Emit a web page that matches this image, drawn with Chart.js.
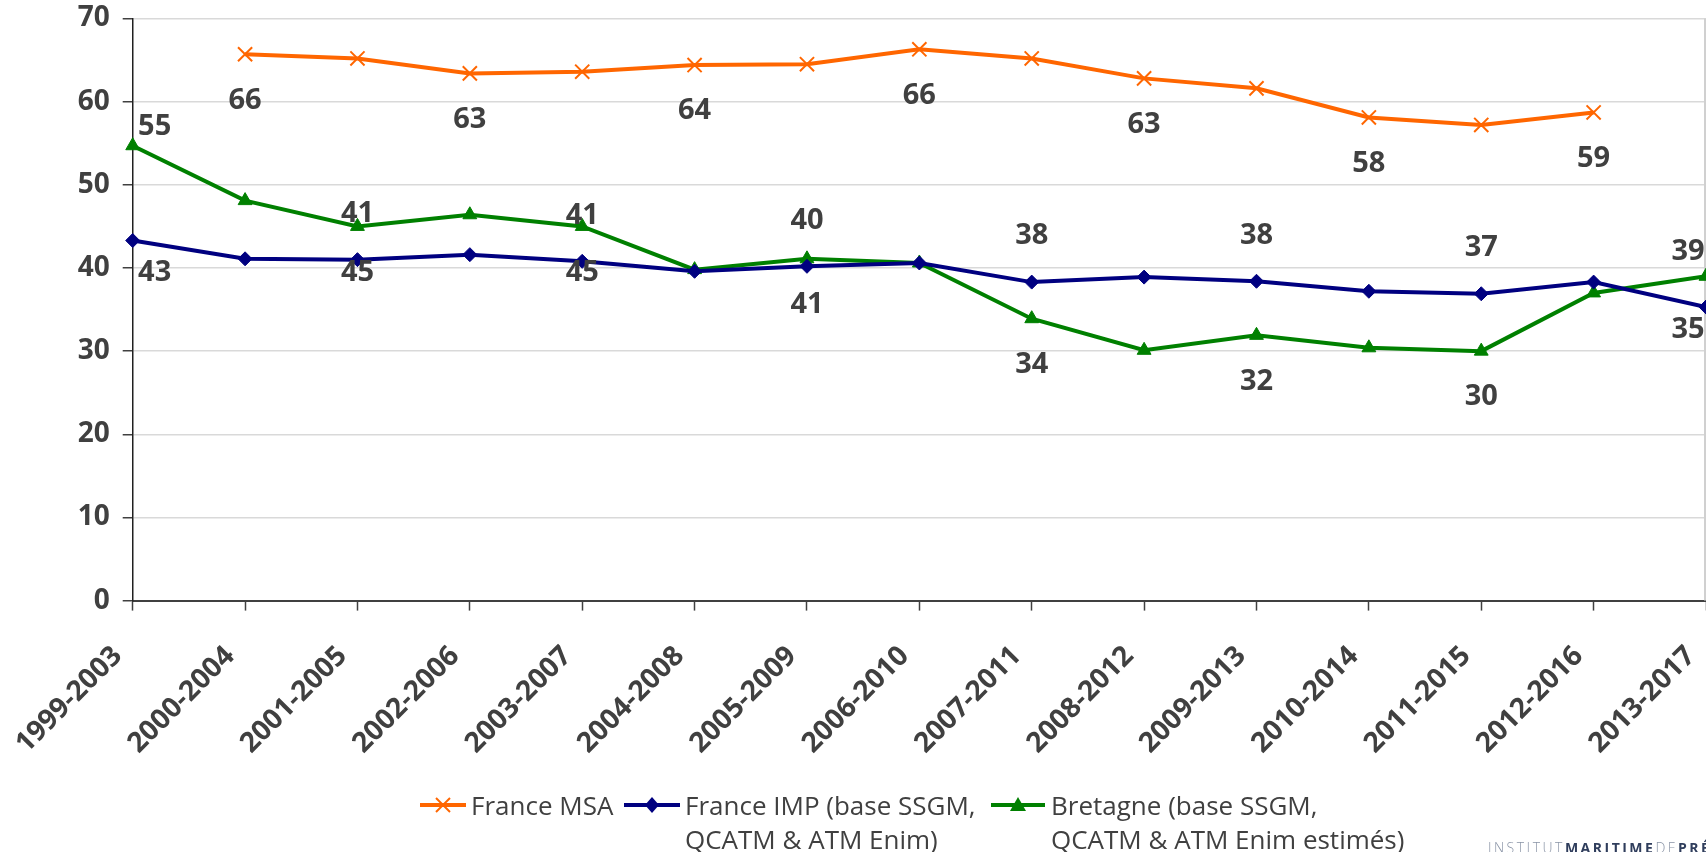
<!DOCTYPE html>
<html lang="fr">
<head>
<meta charset="utf-8">
<script src="https://cdn.jsdelivr.net/npm/chart.js@4/dist/chart.umd.min.js"></script>
<style>
  html, body { margin: 0; padding: 0; background: #fff; overflow: hidden; }
  #wrap { position: relative; width: 1706px; height: 852px; overflow: hidden; }
  #chart { position: absolute; left: 0; top: 0; }
  .legend-item { position: absolute; font-family: "Open Sans", sans-serif; font-size: 26px; color: #404040; line-height: 34px; white-space: nowrap; }
  .legend-icon { position: absolute; }
  #logo { position: absolute; left: 1488px; top: 841px; font-family: "Open Sans", sans-serif; font-size: 14px; line-height: 14px; letter-spacing: 2.5px; color: #8a94a6; font-weight: 300; white-space: nowrap; }
  #logo b { color: #2f3d5c; font-weight: 700; }
</style>
</head>
<body>
<div id="wrap">
  <canvas id="chart" width="1706" height="852"></canvas>

  <!-- légende HTML (texte sur deux lignes comme dans l'original) -->
  <svg class="legend-icon" style="left:418px;top:793px" width="50" height="24">
    <line x1="2" y1="12" x2="48" y2="12" stroke="#FF6600" stroke-width="4"/>
    <line x1="18" y1="5" x2="32" y2="19" stroke="#FF6600" stroke-width="2"/>
    <line x1="32" y1="5" x2="18" y2="19" stroke="#FF6600" stroke-width="2"/>
  </svg>
  <div class="legend-item" style="left:471px;top:788px">France MSA</div>

  <svg class="legend-icon" style="left:622px;top:793px" width="60" height="24">
    <line x1="2" y1="12" x2="58" y2="12" stroke="#000080" stroke-width="4"/>
    <polygon points="30,4 37,12 30,20 23,12" fill="#000080"/>
  </svg>
  <div class="legend-item" style="left:685px;top:788px">France IMP (base SSGM,<br>QCATM &amp; ATM Enim)</div>

  <svg class="legend-icon" style="left:989px;top:793px" width="58" height="24">
    <line x1="2" y1="12" x2="56" y2="12" stroke="#008000" stroke-width="4"/>
    <polygon points="29,4 37,18 21,18" fill="#008000"/>
  </svg>
  <div class="legend-item" style="left:1051px;top:788px">Bretagne (base SSGM,<br>QCATM &amp; ATM Enim estimés)</div>

  <div id="logo">INSTITUT<b>MARITIME</b>DE<b>PRÉVENTION</b></div>
</div>

<script>
// ---------- données ----------
const categories = [
  "1999-2003", "2000-2004", "2001-2005", "2002-2006", "2003-2007",
  "2004-2008", "2005-2009", "2006-2010", "2007-2011", "2008-2012",
  "2009-2013", "2010-2014", "2011-2015", "2012-2016", "2013-2017"
];

const franceMsa = [null, 65.7, 65.2, 63.4, 63.6, 64.4, 64.5, 66.3, 65.2, 62.8, 61.6, 58.1, 57.2, 58.7, null];
const franceImp = [43.3, 41.1, 41.0, 41.6, 40.8, 39.6, 40.2, 40.6, 38.3, 38.9, 38.4, 37.2, 36.9, 38.3, 35.3];
const bretagne  = [54.7, 48.1, 45.0, 46.4, 45.0, 39.8, 41.1, 40.6, 33.9, 30.1, 31.9, 30.4, 30.0, 37.0, 39.0];

const yMin = 0;
const yMax = 70;
const yStep = 10;

// ---------- placement des étiquettes (décalage [dx, dy] en px, null = pas d'étiquette) ----------
const msaLabelShift = [null, [0, 46], null, [0, 46], null, [0, 46], null, [0, 46], null, [0, 46], null, [0, 46], null, [0, 46], null];
const impLabelShift = [[22, 32], null, [0, -46], null, [0, -46], null, [0, -46], null, [0, -46], null, [0, -46], null, [0, -46], null, [-18, 23]];
const bzhLabelShift = [[22, -19], null, [0, 46], null, [0, 46], null, [0, 46], null, [0, 46], null, [0, 46], null, [0, 46], null, [-18, -25]];

const TEXT_COLOR = "#404040";
const BOLD_FONT = { family: "'Open Sans', sans-serif", size: 28, weight: "bold" };

// petit plugin maison pour les valeurs (pas de chartjs-plugin-datalabels hors ligne)
const valueLabels = {
  id: "valueLabels",
  afterDatasetsDraw(chart) {
    const ctx = chart.ctx;
    ctx.save();
    ctx.font = "bold 29px 'Open Sans', sans-serif";
    ctx.fillStyle = TEXT_COLOR;
    ctx.textAlign = "center";
    ctx.textBaseline = "middle";
    chart.data.datasets.forEach((ds, di) => {
      const meta = chart.getDatasetMeta(di);
      ds.labelShift.forEach((shift, i) => {
        if (!shift || ds.data[i] == null) return;
        const pt = meta.data[i];
        ctx.fillText(Math.round(ds.data[i]), pt.x + shift[0], pt.y + shift[1]);
      });
    });
    ctx.restore();
  }
};

// bordure droite de la zone de tracé
const plotBorder = {
  id: "plotBorder",
  beforeDatasetsDraw(chart) {
    const { ctx, chartArea } = chart;
    ctx.save();
    ctx.strokeStyle = "#d0d0d0";
    ctx.lineWidth = 2;
    ctx.beginPath();
    ctx.moveTo(chartArea.right - 1, chartArea.top);
    ctx.lineTo(chartArea.right - 1, chartArea.bottom);
    ctx.stroke();
    ctx.restore();
  }
};

function makeDataset(label, data, color, style, radius, shift) {
  return {
    label: label,
    data: data,
    labelShift: shift,
    borderColor: color,
    backgroundColor: color,
    borderWidth: 4,
    pointStyle: style,
    pointRadius: radius,
    pointHoverRadius: radius,
    pointBorderWidth: style === "crossRot" ? 2 : 1,
    pointBackgroundColor: color,
    pointBorderColor: color,
    tension: 0,
    clip: false,
    spanGaps: false
  };
}

new Chart(document.getElementById("chart"), {
  type: "line",
  data: {
    labels: categories,
    datasets: [
      makeDataset("France MSA", franceMsa, "#FF6600", "crossRot", 10, msaLabelShift),
      makeDataset("France IMP (base SSGM, QCATM & ATM Enim)", franceImp, "#000080", "rectRot", 7, impLabelShift),
      makeDataset("Bretagne (base SSGM, QCATM & ATM Enim estimés)", bretagne, "#008000", "triangle", 8, bzhLabelShift)
    ]
  },
  options: {
    responsive: false,
    animation: false,
    layout: { autoPadding: false, padding: { top: 18.5, right: 0, bottom: 0, left: 0 } },
    plugins: {
      legend: { display: false },
      tooltip: { enabled: false }
    },
    scales: {
      x: {
        offset: false,
        grid: { display: true, drawOnChartArea: false, drawTicks: true, tickLength: 10, tickColor: TEXT_COLOR, tickWidth: 1.5 },
        border: { color: TEXT_COLOR, width: 2 },
        ticks: {
          autoSkip: false,
          minRotation: 45,
          maxRotation: 45,
          padding: 29,
          labelOffset: -15,
          color: TEXT_COLOR,
          font: BOLD_FONT
        },
        afterFit(scale) {
          scale.height = 251.4;
          scale.paddingLeft = 0;
          scale.paddingRight = 0;
        }
      },
      y: {
        min: yMin,
        max: yMax,
        ticks: { stepSize: yStep, padding: 13, color: TEXT_COLOR, font: BOLD_FONT },
        grid: { color: "#d9d9d9", lineWidth: 1.5, tickColor: TEXT_COLOR, tickLength: 10 },
        border: { color: "#202020", width: 1.5 },
        afterFit(scale) {
          scale.width = 132.7;
          scale.paddingTop = 0;
          scale.paddingBottom = 0;
        }
      }
    }
  },
  plugins: [valueLabels, plotBorder]
});
</script>
</body>
</html>
